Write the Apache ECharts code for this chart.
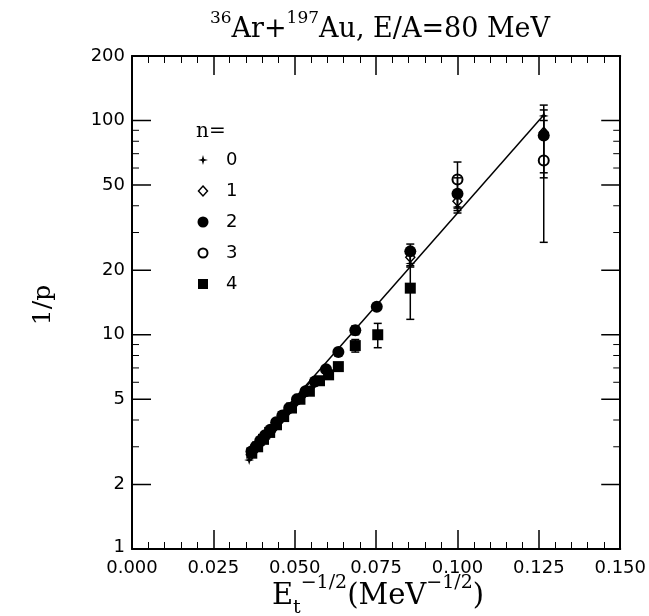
<!DOCTYPE html>
<html><head><meta charset="utf-8">
<script src="https://cdn.jsdelivr.net/npm/echarts@6/dist/echarts.min.js"></script>
<style>html,body{margin:0;padding:0;background:#fff}#c{width:649px;height:616px}</style>
</head><body><div id="c"></div>
<script>
// ---- data ----
const xTickValues = [0, 0.025, 0.05, 0.075, 0.1, 0.125, 0.15];
const yMajorTicks = [1, 2, 5, 10, 20, 50, 100, 200];
const yMinorTicks = [3, 4, 6, 7, 8, 9, 30, 40, 60, 70, 80, 90];
const legendLabels = ['0', '1', '2', '3', '4'];

const n0 = [[0.0360,2.6],[0.0370,2.75],[0.0382,2.9],[0.0395,3.05],[0.0410,3.25],[0.0425,3.45],[0.0442,3.7],[0.0460,4.0],[0.0480,4.35],[0.0502,4.75],[0.0528,5.2],[0.0555,5.75],[0.0855,21.5],[0.1000,39.5],[0.1265,105]];
const n1 = [[0.0365,2.75],[0.0377,2.9],[0.0390,3.05],[0.0404,3.25],[0.0418,3.45],[0.0434,3.65],[0.0452,3.95],[0.0472,4.3],[0.0495,4.7],[0.0520,5.15],[0.0548,5.7],[0.0855,23],[0.1000,42],[0.1265,88]];
const n2 = [[0.0367,2.85],[0.0380,3.0],[0.0394,3.2],[0.0409,3.4],[0.0425,3.6],[0.0443,3.9],[0.0462,4.2],[0.0483,4.55],[0.0507,5.0],[0.0533,5.45],[0.0562,6.05],[0.0596,6.9],[0.0634,8.3],[0.0686,10.5],[0.0752,13.5],[0.0855,24.5],[0.1000,45.5],[0.1265,85]];
const n3 = [[0.1000,53],[0.1265,65]];
const n4 = [[0.0368,2.8],[0.0386,3.0],[0.0404,3.25],[0.0423,3.5],[0.0444,3.8],[0.0466,4.15],[0.0490,4.55],[0.0516,5.0],[0.0545,5.45],[0.0576,6.1],[0.0604,6.5],[0.0634,7.1],[0.0686,8.9],[0.0755,10.0],[0.0855,16.5]];

// error bars: [x, low, high]
const n0Err = [[0.0855,20.7,23.5],[0.1000,37,44],[0.1265,57,118]];
const n2Err = [[0.0686,10.0,11.0],[0.0855,21,26.5],[0.1000,38,54],[0.1265,54,112]];
const n3Err = [[0.1000,39,64],[0.1265,27,100]];
const n4Err = [[0.0686,8.3,9.5],[0.0755,8.7,11.3],[0.0855,11.8,24]];

const fitLine = [[0.036,2.9],[0.1265,106]];

// ---- chart ----
const chart = echarts.init(document.getElementById('c'), null, {renderer:'canvas'});
const SANS = 'DejaVu Sans';
const SERIF = 'DejaVu Serif';
const starPath = 'path://M0,-10 L2.2,-2.2 L10,0 L2.2,2.2 L0,10 L-2.2,2.2 L-10,0 L-2.2,-2.2 Z';

function errRender(params, api) {
  const x = api.value(0);
  const lo = api.coord([x, api.value(1)]);
  const hi = api.coord([x, api.value(2)]);
  const w = 4;
  const st = {stroke:'#000', lineWidth:1.5};
  return {type:'group', children:[
    {type:'line', shape:{x1:lo[0],y1:lo[1],x2:hi[0],y2:hi[1]}, style:st},
    {type:'line', shape:{x1:lo[0]-w,y1:lo[1],x2:lo[0]+w,y2:lo[1]}, style:st},
    {type:'line', shape:{x1:hi[0]-w,y1:hi[1],x2:hi[0]+w,y2:hi[1]}, style:st}
  ]};
}

const yTickData = yMajorTicks.map(v => [0, v, 1]).concat(yMinorTicks.map(v => [0, v, 0]));

function yTickRender(params, api) {
  const v = api.value(1);
  const major = api.value(2) === 1;
  const pL = api.coord([0, v]);
  const pR = api.coord([0.15, v]);
  const len = major ? 19 : 7;
  const st = {stroke:'#000', lineWidth: major ? 1.5 : 1};
  const ch = [
    {type:'line', shape:{x1:pL[0],y1:pL[1],x2:pL[0]+len,y2:pL[1]}, style:st},
    {type:'line', shape:{x1:pR[0]-len,y1:pR[1],x2:pR[0],y2:pR[1]}, style:st}
  ];
  if (major) {
    ch.push({type:'text', style:{text:String(v), x:pL[0]-7, y:pL[1] + (v === 1 ? -2 : 0), align:'right', verticalAlign:'middle', fontSize:18, fontFamily:SANS, fill:'#000'}});
  }
  return {type:'group', children:ch};
}

const xAxisCommon = {
  type:'value', min:0, max:0.15, interval:0.025,
  axisLine:{show:true, onZero:false, lineStyle:{color:'#000', width:2}},
  axisTick:{show:true, inside:true, length:19, lineStyle:{color:'#000', width:1.5}},
  minorTick:{show:true, splitNumber:5, length:7, lineStyle:{color:'#000', width:1}},
  splitLine:{show:false}, minorSplitLine:{show:false}
};

const option = {
  animation:false,
  backgroundColor:'#fff',
  grid:{left:132, right:25, top:56, bottom:67, show:false},
  xAxis:[
    Object.assign({}, xAxisCommon, {position:'bottom', axisLabel:{show:true, color:'#000', fontSize:18, fontFamily:SANS, margin:10, formatter: v => v.toFixed(3)}}),
    Object.assign({}, xAxisCommon, {position:'top', axisLabel:{show:false}})
  ],
  yAxis:[
    {type:'log', logBase:10, min:1, max:200, position:'left',
     axisLine:{show:true, onZero:false, lineStyle:{color:'#000', width:2}},
     axisTick:{show:false}, axisLabel:{show:false}, splitLine:{show:false}},
    {type:'log', logBase:10, min:1, max:200, position:'right',
     axisLine:{show:true, onZero:false, lineStyle:{color:'#000', width:2}},
     axisTick:{show:false}, axisLabel:{show:false}, splitLine:{show:false}}
  ],
  series:[
    {type:'custom', name:'yticks', renderItem:yTickRender, data:yTickData, silent:true, clip:false, z:5},
    {type:'line', data:fitLine, symbol:'none', lineStyle:{color:'#000', width:1.5}, silent:true, z:2},
    {type:'custom', renderItem:errRender, data:n0Err, silent:true, z:3},
    {type:'custom', renderItem:errRender, data:n2Err, silent:true, z:3},
    {type:'custom', renderItem:errRender, data:n3Err, silent:true, z:3},
    {type:'custom', renderItem:errRender, data:n4Err, silent:true, z:3},
    {type:'scatter', name:'4', data:n4, symbol:'rect', symbolSize:11, itemStyle:{color:'#000', opacity:1}, silent:true, z:4},
    {type:'scatter', name:'2', data:n2, symbol:'circle', symbolSize:12, itemStyle:{color:'#000', opacity:1}, silent:true, z:4},
    {type:'scatter', name:'1', data:n1, symbol:'diamond', symbolSize:[9,10], itemStyle:{color:'rgba(0,0,0,0)', borderColor:'#000', borderWidth:1.5, opacity:1}, silent:true, z:4},
    {type:'scatter', name:'3', data:n3, symbol:'circle', symbolSize:10, itemStyle:{color:'rgba(0,0,0,0)', borderColor:'#000', borderWidth:2, opacity:1}, silent:true, z:4},
    {type:'scatter', name:'0', data:n0, symbol:starPath, symbolSize:10, itemStyle:{color:'#000', opacity:1}, silent:true, z:4}
  ],
  graphic:[]
};

// title & axis names
const g = [];
g.push({type:'text', x:380, y:10, style:{
  text:'{s|36}{b|Ar+}{s|197}{b|Au, E/A=80 MeV}',
  align:'center', verticalAlign:'top', fill:'#000',
  rich:{
    b:{fontSize:27, fontFamily:SERIF, lineHeight:33, verticalAlign:'bottom'},
    s:{fontSize:17, fontFamily:SERIF, lineHeight:16, verticalAlign:'top'}
  }}});
g.push({type:'text', x:378, y:574, style:{
  text:'{b|E}{d|t}{s|−1/2}{b|(MeV}{s|−1/2}{b|)}',
  align:'center', verticalAlign:'top', fill:'#000',
  rich:{
    b:{fontSize:29, fontFamily:SERIF, lineHeight:44, verticalAlign:'middle'},
    s:{fontSize:19, fontFamily:SERIF, lineHeight:20, verticalAlign:'top'},
    d:{fontSize:19, fontFamily:SERIF, lineHeight:20, verticalAlign:'bottom'}
  }}});
g.push({type:'text', x:43, y:305, rotation:Math.PI/2, style:{
  text:'1/p', align:'center', verticalAlign:'middle', fontSize:25, fontFamily:SERIF, fill:'#000'}});

// legend
const lx = 203, lt = 226;
g.push({type:'text', x:196, y:132, style:{text:'n=', align:'left', verticalAlign:'middle', fontSize:20, fontFamily:SERIF, fill:'#000'}});
const rows = [160, 191, 222, 253, 284];
g.push({type:'polygon', shape:{points:[[lx,rows[0]-5],[lx+1.1,rows[0]-1.1],[lx+5,rows[0]],[lx+1.1,rows[0]+1.1],[lx,rows[0]+5],[lx-1.1,rows[0]+1.1],[lx-5,rows[0]],[lx-1.1,rows[0]-1.1]]}, style:{fill:'#000'}});
g.push({type:'polygon', shape:{points:[[lx,rows[1]-5],[lx+4.5,rows[1]],[lx,rows[1]+5],[lx-4.5,rows[1]]]}, style:{fill:'#fff', stroke:'#000', lineWidth:1.5}});
g.push({type:'circle', shape:{cx:lx, cy:rows[2], r:5.5}, style:{fill:'#000'}});
g.push({type:'circle', shape:{cx:lx, cy:rows[3], r:4.5}, style:{fill:'none', stroke:'#000', lineWidth:2}});
g.push({type:'rect', shape:{x:lx-5, y:rows[4]-5, width:10, height:10}, style:{fill:'#000'}});
legendLabels.forEach((t, i) => {
  g.push({type:'text', x:lt, y:rows[i], style:{text:t, align:'left', verticalAlign:'middle', fontSize:18, fontFamily:SANS, fill:'#000'}});
});
option.graphic = g;

chart.setOption(option);
</script>
</body></html>
